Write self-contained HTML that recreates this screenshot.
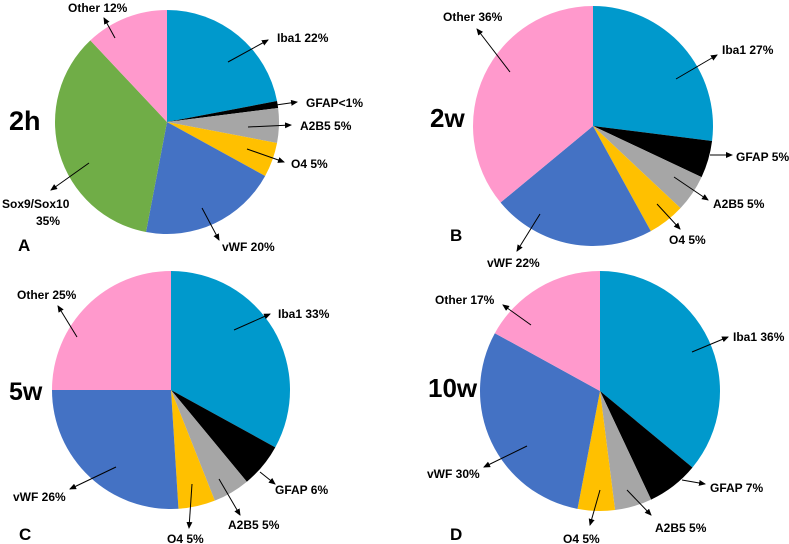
<!DOCTYPE html>
<html><head><meta charset="utf-8"><style>
html,body{margin:0;padding:0;background:#fff;}
svg{display:block;}
text{font-family:"Liberation Sans",Arial,sans-serif;font-weight:bold;fill:#000;}
</style></head><body>
<svg id="chart" width="789" height="544" viewBox="0 0 789 544" xmlns="http://www.w3.org/2000/svg">
<defs><marker id="ah" markerWidth="8" markerHeight="8" refX="6" refY="3" orient="auto" markerUnits="userSpaceOnUse"><path d="M0,0 L7,3 L0,6 z" fill="#000"/></marker></defs>
</svg>
<script>
const colors = {Iba1:"#0099CC",GFAP:"#000000",A2B5:"#A6A6A6",O4:"#FFC000",vWF:"#4472C4",Sox:"#70AD47",Other:"#FF99CC"};
const keysA = ["Iba1","GFAP","A2B5","O4","vWF","Sox","Other"];
const valuesA = [22,1,5,5,20,35,12];
const labelsA = ["Iba1 22%","GFAP<1%","A2B5 5%","O4 5%","vWF 20%","Sox9/Sox10|35%","Other 12%"];
const keysB = ["Iba1","GFAP","A2B5","O4","vWF","Other"];
const valuesB = [27,5,5,5,22,36];
const labelsB = ["Iba1 27%","GFAP 5%","A2B5 5%","O4 5%","vWF 22%","Other 36%"];
const keysC = ["Iba1","GFAP","A2B5","O4","vWF","Other"];
const valuesC = [33,6,5,5,26,25];
const labelsC = ["Iba1 33%","GFAP 6%","A2B5 5%","O4 5%","vWF 26%","Other 25%"];
const keysD = ["Iba1","GFAP","A2B5","O4","vWF","Other"];
const valuesD = [36,7,5,5,30,17];
const labelsD = ["Iba1 36%","GFAP 7%","A2B5 5%","O4 5%","vWF 30%","Other 17%"];

// layout (positions only)
const panels = [
 {id:"a",keys:keysA,vals:valuesA,labs:labelsA,cx:167,cy:122,r:112,title:"2h",tx:9,ty:130,tf:27,letter:"A",lx:18,ly:251,
  lp:[[277,42],[306,107],[300,130],[291,168],[222,251],[2,208],[68,12]],
  ar:[[228,62,268,40],[276,105,297,102],[248,127,291,125],[247,149,284,162],[202,208,219,240],[89,163,51,190],[115,38,104,18]]},
 {id:"b",keys:keysB,vals:valuesB,labs:labelsB,cx:593,cy:126,r:120,title:"2w",tx:430,ty:127,tf:26,letter:"B",lx:450,ly:241,
  lp:[[722,54],[736,161],[713,208],[669,244],[487,267],[443,21]],
  ar:[[676,79,717,55],[710,155,732,155],[674,177,708,200],[657,204,680,229],[540,214,517,251],[510,72,477,29]]},
 {id:"c",keys:keysC,vals:valuesC,labs:labelsC,cx:171,cy:390,r:119,title:"5w",tx:9,ty:400,tf:25,letter:"C",lx:19,ly:540,
  lp:[[278,318],[275,494],[228,529],[167,543],[13,501],[17,299]],
  ar:[[234,330,270,314],[260,472,275,484],[219,479,240,515],[192,484,189,528],[116,467,70,489],[77,337,58,306]]},
 {id:"d",keys:keysD,vals:valuesD,labs:labelsD,cx:600,cy:391,r:120,title:"10w",tx:428,ty:397,tf:26,letter:"D",lx:450,ly:540,
  lp:[[733,341],[710,492],[655,532],[563,543],[427,478],[435,304]],
  ar:[[692,352,728,337],[682,480,705,484],[627,490,651,515],[600,490,590,525],[527,446,484,467],[531,325,503,305]]}
];
const svg = document.getElementById('chart');
const NS = "http://www.w3.org/2000/svg";
function mk(t){return document.createElementNS(NS,t);}
function pt(cx,cy,r,a){return [cx+r*Math.sin(a), cy-r*Math.cos(a)];}
panels.forEach(p=>{
  const g = mk('g');
  
  
  svg.appendChild(g);
  const tot = p.vals.reduce((s,v)=>s+v,0);
  let a0 = 0;
  p.vals.forEach((v,i)=>{
    const a1 = a0 + v/tot*2*Math.PI;
    const [x0,y0]=pt(p.cx,p.cy,p.r,a0), [x1,y1]=pt(p.cx,p.cy,p.r,a1);
    const path = mk('path');
    path.setAttribute('d',`M${p.cx},${p.cy} L${x0},${y0} A${p.r},${p.r} 0 ${(a1-a0)>Math.PI?1:0} 1 ${x1},${y1} Z`);
    path.setAttribute('fill',colors[p.keys[i]]);
    
    
    g.appendChild(path);
    a0 = a1;
  });
  p.labs.forEach((l,i)=>{
    const [x1,y1,x2,y2]=p.ar[i];
    const ln = mk('line');
    ln.setAttribute('x1',x1);ln.setAttribute('y1',y1);ln.setAttribute('x2',x2);ln.setAttribute('y2',y2);
    ln.setAttribute('stroke','#000');ln.setAttribute('stroke-width','1');ln.setAttribute('marker-end','url(#ah)');
    
    
    g.appendChild(ln);
    const parts = l.split('|');
    parts.forEach((s,j)=>{
      const t = mk('text');
      t.setAttribute('x', p.lp[i][0] + (j>0?34:0));
      t.setAttribute('y', p.lp[i][1] + j*17);
      t.setAttribute('font-size','12');
      t.textContent = s;
      
      
      g.appendChild(t);
    });
  });
  const tt = mk('text');
  tt.setAttribute('x',p.tx);tt.setAttribute('y',p.ty);tt.setAttribute('font-size',p.tf);
  tt.textContent = p.title;
  
  
  g.appendChild(tt);
  const lt = mk('text');
  lt.setAttribute('x',p.lx);lt.setAttribute('y',p.ly);lt.setAttribute('font-size','17');
  lt.setAttribute('font-weight','normal');
  lt.textContent = p.letter;
  
  
  g.appendChild(lt);
});
</script>
</body></html>
